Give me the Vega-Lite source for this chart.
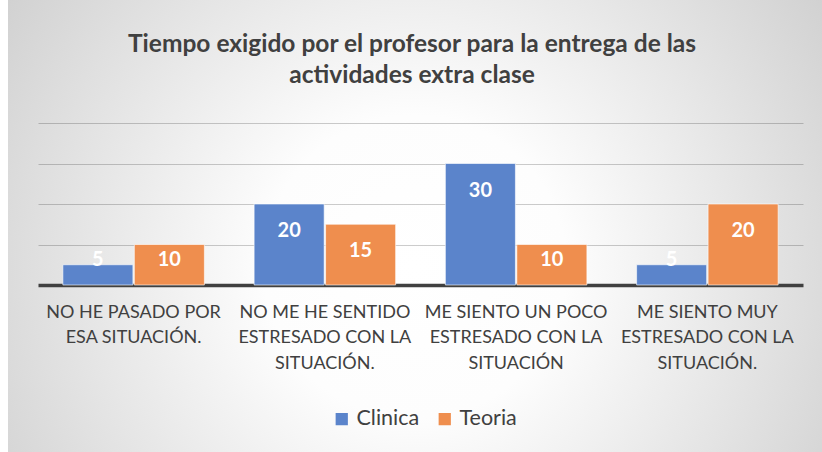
{
  "$schema": "https://vega.github.io/schema/vega-lite/v6.json",
  "width": 814,
  "height": 452,
  "autosize": {"type": "none"},
  "padding": {"left": 8, "top": 0, "right": 0, "bottom": 0},
  "background": "white",
  "config": {
    "font": "Lato",
    "view": {
      "stroke": null,
      "fill": {
        "gradient": "radial",
        "x1": 0.5, "y1": 0.55, "r1": 0,
        "x2": 0.5, "y2": 0.55, "r2": 0.62,
        "stops": [
          {"offset": 0, "color": "#ffffff"},
          {"offset": 0.3, "color": "#fdfdfd"},
          {"offset": 1, "color": "#cfcfcf"}
        ]
      }
    }
  },
  "title": {
    "text": ["Tiempo exigido por el profesor para la entrega de las", "actividades extra clase"],
    "anchor": "middle",
    "frame": "group",
    "offset": -88,
    "fontSize": 24.5,
    "fontWeight": "bold",
    "color": "#404040",
    "lineHeight": 31,
    "dx": -3
  },
  "data": {
    "values": [
      {"category": "NO HE PASADO POR|ESA SITUACIÓN.", "series": "Clinica", "value": 5},
      {"category": "NO HE PASADO POR|ESA SITUACIÓN.", "series": "Teoria", "value": 10},
      {"category": "NO ME HE SENTIDO|ESTRESADO CON LA|SITUACIÓN.", "series": "Clinica", "value": 20},
      {"category": "NO ME HE SENTIDO|ESTRESADO CON LA|SITUACIÓN.", "series": "Teoria", "value": 15},
      {"category": "ME SIENTO UN POCO|ESTRESADO CON LA|SITUACIÓN", "series": "Clinica", "value": 30},
      {"category": "ME SIENTO UN POCO|ESTRESADO CON LA|SITUACIÓN", "series": "Teoria", "value": 10},
      {"category": "ME SIENTO MUY|ESTRESADO CON LA|SITUACIÓN.", "series": "Clinica", "value": 5},
      {"category": "ME SIENTO MUY|ESTRESADO CON LA|SITUACIÓN.", "series": "Teoria", "value": 20}
    ]
  },
  "encoding": {
    "x": {
      "field": "category",
      "type": "nominal",
      "sort": null,
      "scale": {"range": [30, 795], "paddingInner": 0.26, "paddingOuter": 0.13},
      "axis": {
        "title": null,
        "orient": "bottom",
        "offset": -167,
        "labelAngle": 0,
        "labelExpr": "split(datum.label, '|')",
        "labelFontSize": 18,
        "labelLineHeight": 25.5,
        "labelColor": "#404040",
        "labelPadding": 18,
        "labelLimit": 260,
        "labelOverlap": false,
        "labelFlush": false,
        "ticks": false,
        "domainColor": "#404040",
        "domainWidth": 3.5
      }
    },
    "xOffset": {"field": "series", "sort": ["Clinica", "Teoria"], "scale": {"paddingInner": 0.02}},
    "y": {
      "field": "value",
      "type": "quantitative",
      "scale": {"domain": [0, 40], "range": [285, 123], "nice": false, "zero": true},
      "axis": {
        "title": null,
        "labels": false,
        "ticks": false,
        "domain": false,
        "grid": true,
        "values": [10, 20, 30, 40],
        "gridColor": "#000000",
        "gridOpacity": 0.2,
        "gridWidth": 1
      }
    }
  },
  "layer": [
    {
      "mark": {"type": "bar", "stroke": "#ffffff", "strokeWidth": 1, "strokeOpacity": 0.6},
      "encoding": {
        "color": {
          "field": "series",
          "type": "nominal",
          "sort": ["Clinica", "Teoria"],
          "scale": {"domain": ["Clinica", "Teoria"], "range": ["#5B84CB", "#EF8E4E"]},
          "legend": {
            "title": null,
            "orient": "none",
            "direction": "horizontal",
            "legendX": 323,
            "legendY": 408,
            "symbolType": "square",
            "symbolSize": 150,
            "symbolStrokeWidth": 0,
            "labelFontSize": 21.5,
            "labelColor": "#404040",
            "columnPadding": 14,
            "labelOffset": 4,
            "padding": 0
          }
        }
      }
    },
    {
      "transform": [{"filter": "datum.value >= 15"}],
      "mark": {"type": "text", "color": "white", "fontWeight": "bold", "fontSize": 20, "baseline": "middle", "dy": 27},
      "encoding": {"text": {"field": "value", "type": "quantitative"}}
    },
    {
      "transform": [{"filter": "datum.value < 15"}],
      "mark": {"type": "text", "color": "white", "fontWeight": "bold", "fontSize": 20, "baseline": "middle"},
      "encoding": {
        "y": {"datum": 6.2, "type": "quantitative"},
        "text": {"field": "value", "type": "quantitative"}
      }
    }
  ]
}
